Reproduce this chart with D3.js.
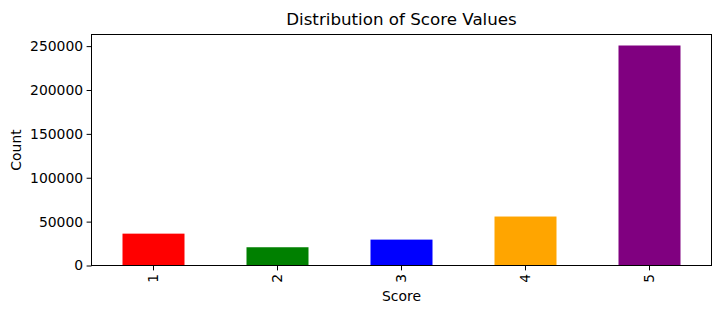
<!DOCTYPE html>
<html><head><meta charset="utf-8">
<script src="https://cdn.jsdelivr.net/npm/d3@7"></script>
<style>body{margin:0;background:#fff}svg{display:block}text{font-family:"DejaVu Sans",sans-serif;fill:#000}</style>
</head><body><svg id="c" width="723" height="309"></svg>
<script>
const categories = ["1","2","3","4","5"];
const counts = [36300, 20800, 29500, 55800, 250700];
const barColors = ["red","green","blue","orange","purple"];
const yTicks = [0, 50000, 100000, 150000, 200000, 250000];

const svg = d3.select("#c");
const m = {l:91.5, r:711.5, t:34.5, b:265.5};
const x = d3.scaleBand().domain(categories).range([m.l, m.r]).paddingInner(0.5).paddingOuter(0.25);
const y = d3.scaleLinear().domain([0, d3.max(counts)*1.05]).range([m.b, m.t]);

svg.append("g").selectAll("rect").data(counts).join("rect")
  .attr("x", (d,i)=>x(categories[i]))
  .attr("width", x.bandwidth())
  .attr("y", d=>y(d))
  .attr("height", d=>m.b - y(d))
  .attr("fill", (d,i)=>barColors[i]);

const yAxis = svg.append("g").attr("transform",`translate(${m.l},0)`)
  .call(d3.axisLeft(y).tickValues(yTicks).tickFormat(d3.format("d")).tickSize(4.9).tickPadding(3.5));
yAxis.select(".domain").remove();
yAxis.selectAll("text").style("font-size","13.9px").style("font-family","DejaVu Sans");
yAxis.selectAll("line").attr("stroke","#000").attr("stroke-width",1);

const xAxis = svg.append("g").attr("transform",`translate(0,${m.b})`)
  .call(d3.axisBottom(x).tickSize(4.9).tickPadding(3.5));
xAxis.select(".domain").remove();
xAxis.selectAll("line").attr("stroke","#000").attr("stroke-width",1);
xAxis.selectAll("text").style("font-size","13.9px").style("font-family","DejaVu Sans")
  .attr("transform","rotate(-90)").attr("text-anchor","end").attr("x",-8.4).attr("y",0).attr("dy","0.35em");

svg.append("rect").attr("x",m.l).attr("y",m.t).attr("width",m.r-m.l).attr("height",m.b-m.t)
  .attr("fill","none").attr("stroke","#000").attr("stroke-width",1);

svg.append("text").attr("x",(m.l+m.r)/2).attr("y",25).attr("text-anchor","middle")
  .style("font-size","16.7px").text("Distribution of Score Values");
svg.append("text").attr("x",(m.l+m.r)/2).attr("y",301).attr("text-anchor","middle")
  .style("font-size","13.9px").text("Score");
svg.append("text").attr("transform",`translate(21,${(m.t+m.b)/2}) rotate(-90)`).attr("text-anchor","middle")
  .style("font-size","13.9px").text("Count");
</script></body></html>
